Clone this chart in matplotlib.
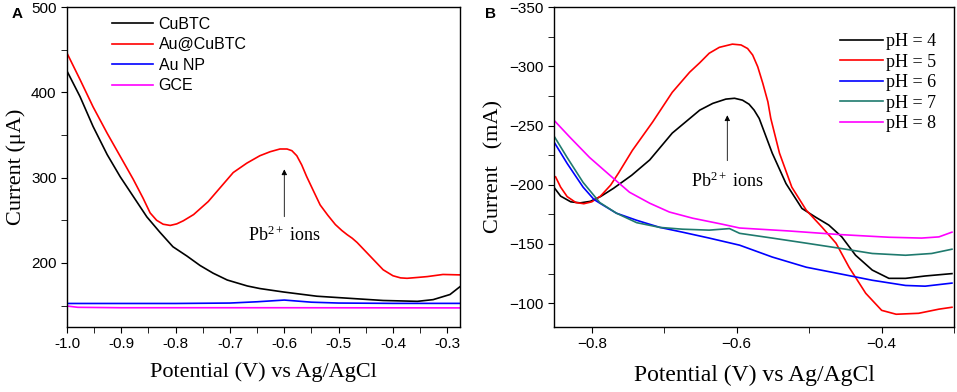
import matplotlib
matplotlib.use('Agg')
import matplotlib.pyplot as plt
from matplotlib.ticker import MultipleLocator

# ---- panel A data (potential V, current uA) ----
cubtc_x = [-1.0, -0.976, -0.952, -0.926, -0.902, -0.878, -0.853, -0.829, -0.805, -0.779,
           -0.755, -0.731, -0.705, -0.668, -0.645, -0.602, -0.540, -0.479, -0.418, -0.355,
           -0.326, -0.295, -0.276]
cubtc_y = [425, 395, 360, 327, 301, 278, 254, 236, 219, 208,
           197, 188, 180, 173, 170, 166, 161, 158.5, 156, 155,
           157, 163, 172.5]

au_cubtc_x = [-1.0, -0.976, -0.952, -0.926, -0.902, -0.878, -0.860, -0.847, -0.835, -0.823,
              -0.810, -0.798, -0.786, -0.767, -0.740, -0.694, -0.669, -0.645, -0.626, -0.608,
              -0.595, -0.586, -0.577, -0.568, -0.559, -0.546, -0.534, -0.520, -0.506, -0.494,
              -0.484, -0.475, -0.466, -0.442, -0.418, -0.400, -0.386, -0.374, -0.355, -0.337,
              -0.308, -0.276]
au_cubtc_y = [446, 415, 383, 352, 325, 298, 276, 258.7, 250, 245.4,
              244, 245.8, 249.4, 256.7, 272, 306, 317, 325.7, 330.4, 333.6,
              333.6, 331.6, 325.7, 315, 301.5, 284, 268, 256, 245, 238,
              233, 229, 224, 208, 192, 185, 182.5, 182, 183, 184,
              186.5, 186]

au_np_x = [-1.0, -0.8, -0.7, -0.65, -0.6, -0.55, -0.5, -0.4, -0.276]
au_np_y = [152.5, 152.5, 153, 154.5, 156.5, 154, 153, 152.6, 152.6]

gce_x = [-1.0, -0.98, -0.9, -0.6, -0.276]
gce_y = [149.5, 148, 147.5, 147.5, 147.3]

# ---- panel B data (potential V, current mA) ----
ph4_x = [-0.852, -0.843, -0.829, -0.816, -0.802, -0.788, -0.770, -0.745, -0.720, -0.689,
         -0.651, -0.633, -0.615, -0.603, -0.592, -0.583, -0.576, -0.569, -0.551, -0.532,
         -0.510, -0.491, -0.473, -0.455, -0.436, -0.413, -0.390, -0.367, -0.340, -0.303]
ph4_y = [-197.7, -190.4, -185.6, -184.7, -186, -190, -197, -208, -221, -243.6,
         -263, -268.7, -272.3, -273, -271.4, -268, -263, -256, -226.7, -201,
         -180, -172.6, -166, -156, -140.5, -128, -121, -121, -123, -125]

ph5_x = [-0.850, -0.843, -0.834, -0.822, -0.811, -0.800, -0.788, -0.774, -0.763, -0.744,
         -0.716, -0.689, -0.665, -0.651, -0.638, -0.624, -0.606, -0.594, -0.585, -0.578,
         -0.571, -0.564, -0.557, -0.553, -0.541, -0.524, -0.504, -0.482, -0.463, -0.445,
         -0.422, -0.400, -0.380, -0.349, -0.321, -0.303]
ph5_y = [-206.7, -198, -190, -185, -184, -185.6, -190.4, -199.7, -210, -229,
         -253, -278, -295, -303, -311, -316, -318.7, -318, -315, -309.5,
         -299.6, -285.6, -270, -256, -226.7, -198, -178.5, -164, -150.7, -130.4,
         -108.4, -94, -90.7, -91.5, -95, -96.6]

ph6_x = [-0.851, -0.834, -0.812, -0.797, -0.789, -0.766, -0.738, -0.706, -0.675, -0.638,
         -0.596, -0.551, -0.504, -0.459, -0.413, -0.367, -0.340, -0.303]
ph6_y = [-235, -218, -198, -187.6, -184.5, -176, -170, -164, -160, -155,
         -149, -139, -130.4, -125, -119.4, -115, -114.4, -117]

ph7_x = [-0.851, -0.834, -0.812, -0.789, -0.766, -0.738, -0.706, -0.675, -0.638, -0.610,
         -0.596, -0.551, -0.504, -0.459, -0.413, -0.367, -0.331, -0.303]
ph7_y = [-240, -223, -202, -185, -176, -168, -164, -162.5, -161.7, -163,
         -159, -155, -150.7, -146.5, -142, -140.5, -142, -145.6]

ph8_x = [-0.851, -0.830, -0.803, -0.775, -0.748, -0.720, -0.693, -0.661, -0.620, -0.596,
         -0.528, -0.459, -0.390, -0.345, -0.321, -0.303]
ph8_y = [-253.7, -240, -223, -208, -193.7, -184.4, -177, -171.8, -166.7, -163.5,
         -161, -158, -155.7, -155, -156, -160]

serif = 'Liberation Serif'
plt.rcParams['font.family'] = ['Liberation Sans', 'DejaVu Sans']
plt.rcParams['mathtext.fontset'] = 'custom'
plt.rcParams['mathtext.rm'] = serif
plt.rcParams['mathtext.it'] = serif + ':italic'
plt.rcParams['mathtext.bf'] = serif + ':bold'
lw = 1.2

fig = plt.figure(figsize=(9.57, 3.92), dpi=100)
ax1 = fig.add_axes([0.070, 0.166, 0.411, 0.816])
ax2 = fig.add_axes([0.579, 0.166, 0.418, 0.816])

ax1.plot(cubtc_x, cubtc_y, color='black', lw=lw, label='CuBTC')
ax1.plot(au_cubtc_x, au_cubtc_y, color='#ff0000', lw=lw, label='Au@CuBTC')
ax1.plot(au_np_x, au_np_y, color='#0000ff', lw=lw, label='Au NP')
ax1.plot(gce_x, gce_y, color='#ff00ff', lw=lw, label='GCE')
ax1.set_xlim(-1.0, -0.276)
ax1.set_ylim(125, 500)
ax1.xaxis.set_minor_locator(MultipleLocator(0.05))
ax1.yaxis.set_minor_locator(MultipleLocator(50))
ax1.set_xticks([-1.0, -0.9, -0.8, -0.7, -0.6, -0.5, -0.4, -0.3])
ax1.set_xticklabels(['-1.0', '-0.9', '-0.8', '-0.7', '-0.6', '-0.5', '-0.4', '-0.3'])
ax1.set_yticks([200, 300, 400, 500])
ax1.set_xlabel('Potential (V) vs Ag/AgCl', family=serif, fontsize=16, labelpad=8)
ax1.set_ylabel('Current (\u03bcA)', family=serif, fontsize=16, labelpad=4)
ax1.legend(loc='upper left', bbox_to_anchor=(0.085, 1.005), frameon=False, fontsize=11.5,
           handlelength=2.6, handletextpad=0.35, labelspacing=0.35, borderaxespad=0.3)
ax1.annotate('', xy=(-0.6, 313), xytext=(-0.6, 251),
             arrowprops=dict(arrowstyle='-|>', color='black', lw=0.6, mutation_scale=8))
ax1.text(-0.6, 232, 'Pb$^{2+}$ ions', family=serif, fontsize=13, ha='center', va='center')

ax2.plot(ph4_x, ph4_y, color='black', lw=lw, label='pH = 4')
ax2.plot(ph5_x, ph5_y, color='#ff0000', lw=lw, label='pH = 5')
ax2.plot(ph6_x, ph6_y, color='#0000ff', lw=lw, label='pH = 6')
ax2.plot(ph7_x, ph7_y, color='#1f7a6e', lw=lw, label='pH = 7')
ax2.plot(ph8_x, ph8_y, color='#ff00ff', lw=lw, label='pH = 8')
ax2.set_xlim(-0.852, -0.30)
ax2.set_ylim(-80, -350)
ax2.xaxis.set_major_locator(MultipleLocator(0.2))
ax2.xaxis.set_minor_locator(MultipleLocator(0.1))
ax2.yaxis.set_major_locator(MultipleLocator(50))
ax2.yaxis.set_minor_locator(MultipleLocator(25))
ax2.set_xlabel('Potential (V) vs Ag/AgCl', family=serif, fontsize=17, labelpad=10)
ax2.set_ylabel('Current   (mA)', family=serif, fontsize=16, labelpad=4)
ax2.legend(loc='upper right', bbox_to_anchor=(0.995, 0.97), frameon=False,
           prop={'family': serif, 'size': 13},
           handlelength=2.4, handletextpad=0.15, labelspacing=0.2)
ax2.annotate('', xy=(-0.613, -261), xytext=(-0.613, -218),
             arrowprops=dict(arrowstyle='-|>', color='black', lw=0.6, mutation_scale=8))
ax2.text(-0.613, -203, 'Pb$^{2+}$ ions', family=serif, fontsize=13, ha='center', va='center')

for ax in (ax1, ax2):
    for side in ('top', 'right', 'left', 'bottom'):
        ax.spines[side].set_linewidth(1.0)
    ax.tick_params(which='both', direction='out', top=False, right=False, labelsize=11)
    ax.tick_params(which='major', length=4)
    ax.tick_params(which='minor', length=4)

fig.text(0.012, 0.955, 'A', fontsize=11, fontweight='bold')
fig.text(0.507, 0.955, 'B', fontsize=11, fontweight='bold')

fig.savefig('out.png', dpi=100)
